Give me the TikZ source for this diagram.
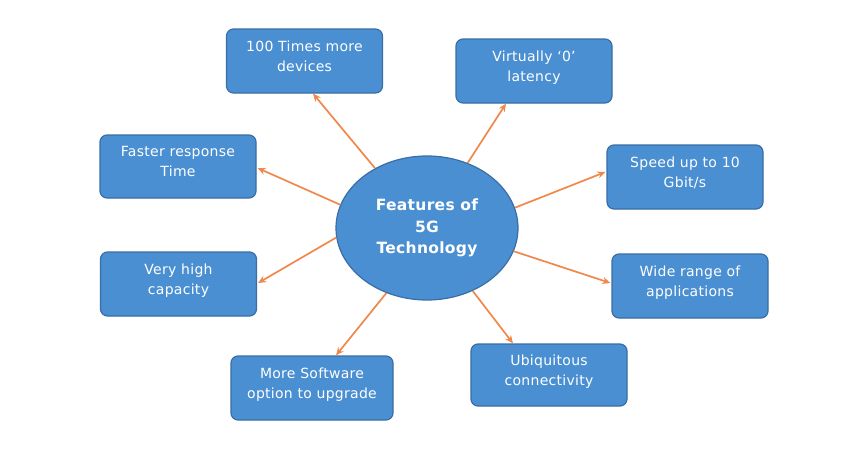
\documentclass[tikz,border=0pt]{standalone}
\usepackage{fontspec}
\setmainfont{DejaVu Sans}
\usetikzlibrary{shapes.geometric,calc,arrows.meta}
\definecolor{boxfill}{HTML}{4A8FD2}
\definecolor{boxline}{HTML}{3A6EA5}
\definecolor{arr}{HTML}{F0884A}
\begin{document}
\begin{tikzpicture}[x=1pt,y=-1pt,
  featbox/.style={draw=boxline,line width=1.2pt,fill=boxfill,rounded corners=7pt,
    minimum width=156pt,minimum height=64pt,align=center,text=white,
    font=\fontsize{14}{19.5}\selectfont\addfontfeatures{LetterSpace=2},inner sep=2pt,
    text depth=10pt},
  hub/.style={ellipse,draw=boxline,line width=1.2pt,fill=boxfill,minimum width=182pt,
    minimum height=144pt,align=center,text=white,inner sep=0pt,
    font=\bfseries\fontsize{15.5}{21.5}\selectfont\addfontfeatures{LetterSpace=2}},
  link/.style={draw=arr,line width=1.7pt,-{Stealth[length=8pt,width=7pt]}}]
\useasboundingbox (0,0) rectangle (853,471);
\fill[white] (0,0) rectangle (853,471);
\node[hub] (c) at (427,228) {Features of\\5G\\Technology};
\node[featbox] (b1) at (304.5,61) {100 Times more\\devices};
\node[featbox] (b2) at (534,71) {Virtually ‘0’\\latency};
\node[featbox] (b3) at (685,177) {Speed up to 10\\Gbit/s};
\node[featbox] (b4) at (690,286) {Wide range of\\applications};
\node[featbox,minimum height=62pt] (b5) at (549,375) {Ubiquitous\\connectivity};
\node[featbox,minimum width=162pt] (b6) at (312,388) {More Software\\option to upgrade};
\node[featbox] (b7) at (178.5,284) {Very high\\capacity};
\node[featbox,minimum height=63pt] (b8) at (178,166.5) {Faster response\\Time};
\draw[link] (c.131.6) -- ($(b1.south)+(8.5,0)$);
\draw[link] (c.58.4) -- ($(b2.south)+(-28,0)$);
\draw[link] (c.13) -- ($(b3.west)+(-1,-5)$);
\draw[link] (c.-15) -- ($(b4.west)+(-1,-3)$);
\draw[link] (c.-54) -- ($(b5.north)+(-36,0)$);
\draw[link] (c.-122) -- ($(b6.north)+(24,0)$);
\draw[link] (c.-174) -- ($(b7.east)+(1,-1)$);
\draw[link] (c.165.5) -- ($(b8.east)+(1,1.5)$);
\end{tikzpicture}
\end{document}
